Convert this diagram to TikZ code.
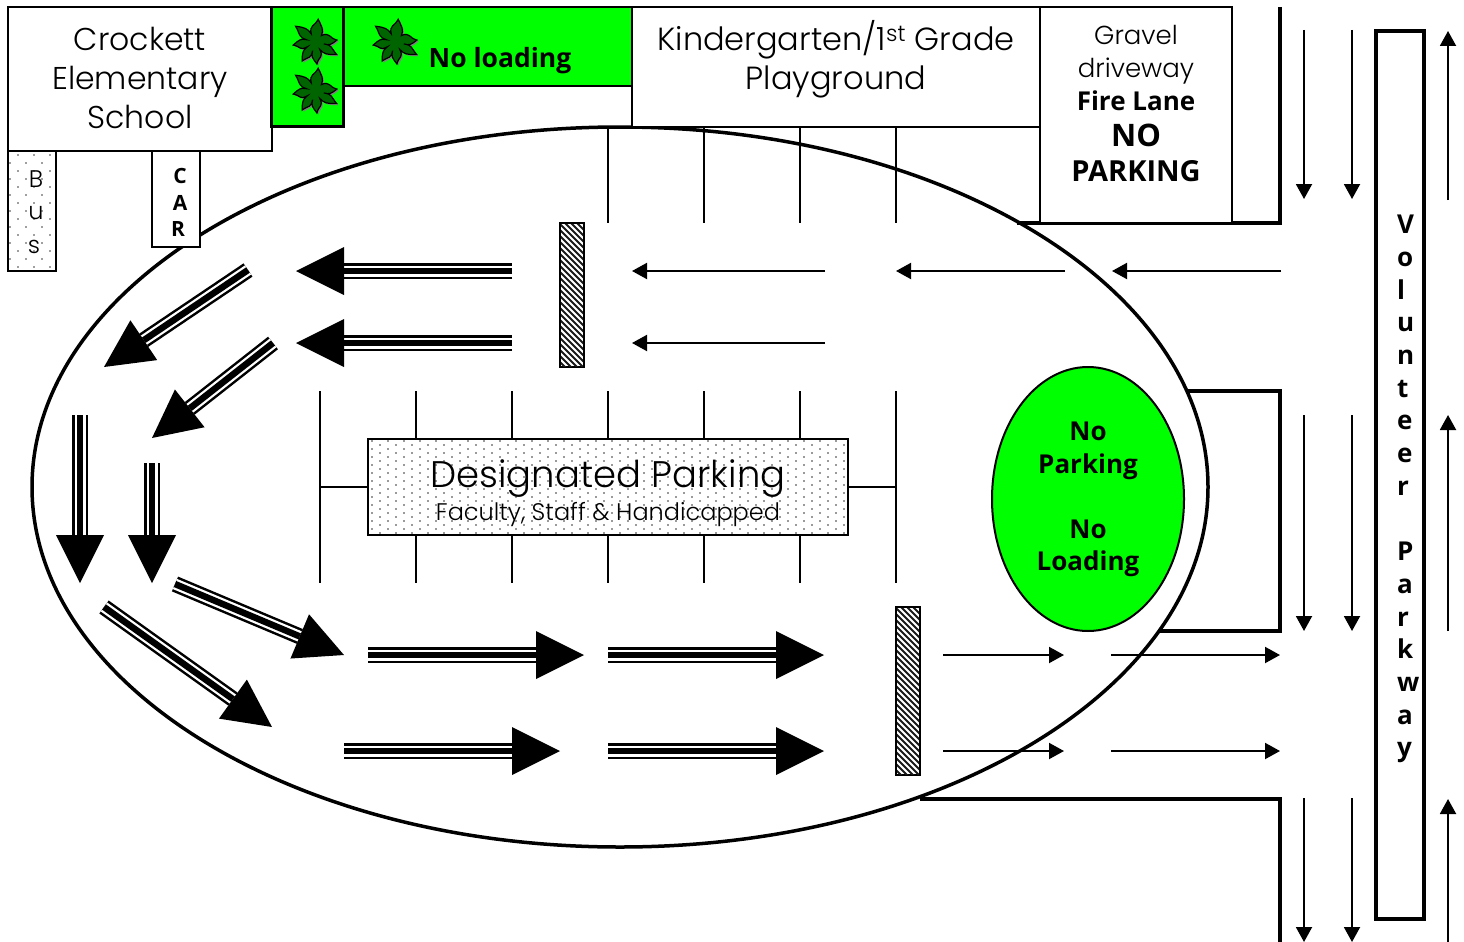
\documentclass[tikz,border=0pt]{standalone}
\usepackage{fontspec}
\setmainfont{Poppins Light}
\newfontfamily\boldf[BoldFont={* Bold}]{Open Sans}
\usetikzlibrary{shapes.geometric,arrows.meta,calc}
\definecolor{lawn}{RGB}{0,255,0}
\definecolor{leaf}{RGB}{0,100,0}
\tikzset{
 x=1pt,y=-1pt,
 box/.style={draw=black,line width=2.3pt,fill=white,anchor=north west,inner sep=0pt,outer sep=0pt,align=center},
 greenbox/.style={box,fill=lawn,line width=2.4pt},
 road/.style={draw=black,line width=3.6pt,line join=miter},
 stall/.style={draw=black,line width=2pt},
 thinarrow/.style={draw=black,line width=2pt,-{Triangle[length=15pt,width=16pt]}},
 lighttext/.style={inner sep=0pt,align=center,text=black},
 boldtext/.style={inner sep=0pt,align=center,font=\boldf\bfseries},
 pics/leafy/.style={code={
  \foreach \dx/\col/\edge/\w in {1.5/gray/gray/0.1,0/leaf/black/1.2}{
  \filldraw[shift={(\dx,\dx)},fill=\col,draw=\edge,line width=\w pt]
   (245:9)
   \foreach \p/\t/\n/\r in {245/278/315/23,315/355/372/22,372/390/417/25,417/445/465/22,465/484/508/23,508/532/555/22,555/579/605/25}{
    .. controls ({(\p+\t)/2-10}:18) and ({\t-11}:{\r*0.66}) .. (\t:\r)
    .. controls ({\t+16}:{\r*0.72}) and ({(\t+\n)/2+10}:15) .. (\n:9)
   } -- cycle;
  }
 }},
}
\newcommand{\flowthin}[5]{\coordinate (#1-s) at (#2,#3); \coordinate (#1-e) at (#4,#5); \draw[thinarrow] (#1-s) -- (#1-e);}
\newcommand{\flowbig}[5]{\coordinate (#1-s) at (#2,#3); \coordinate (#1-e) at (#4,#5);
 \coordinate (#1-b) at ($(#1-e)!48pt!(#1-s)$);
 \draw[line width=16pt] (#1-s) -- (#1-b);
 \draw[line width=11pt,white] (#1-s) -- (#1-b);
 \draw[line width=6.5pt] (#1-s) -- (#1-b);
 \fill (#1-e) -- ($(#1-b)!24pt!90:(#1-e)$) -- ($(#1-b)!24pt!-90:(#1-e)$) -- cycle;}
\newcommand{\stallline}[4]{\draw[stall] (#1,#2) -- (#3,#4);}
\begin{document}
\begin{tikzpicture}
\useasboundingbox (0,0) rectangle (1464,942);
\fill[white] (0,0) rectangle (1464,942);
% oval drive
\node[ellipse,draw=black,line width=3.5pt,minimum width=1176pt,minimum height=720pt,inner sep=0pt,outer sep=0pt] (oval) at (620,487) {};
% road edges
\draw[road] (1280,7) -- (1280,223) -- (1017,223);
\draw[road] (1187,391) -- (1280,391) -- (1280,631) -- (1160,631);
\draw[road] (920,799) -- (1280,799) -- (1280,942);
% buildings
\node[box,minimum width=264pt,minimum height=144pt] (school) at (8,7) {};
\node[lighttext,font=\fontsize{31.5}{39}\selectfont] (st) at (140,78) {Crockett\\Elementary\\School};
\node[greenbox,minimum width=72pt,minimum height=119.5pt] (trees) at (271.5,7) {};
\node[greenbox,minimum width=288.5pt,minimum height=79pt] (noload) at (343.5,7) {};
\node[box,minimum width=408pt,minimum height=120pt] (kinder) at (632,7) {};
\node[lighttext,font=\fontsize{32}{39}\selectfont] (kt) at (836,59.5) {Kindergarten/1\textsuperscript{st} Grade\\Playground};
\node[box,minimum width=192pt,minimum height=216pt] (gravel) at (1040,7) {};
\node[lighttext,font=\fontsize{26}{26}\selectfont] (gr1) at (1136,35) {Gravel};
\node[lighttext,font=\fontsize{26}{26}\selectfont] (gr2) at (1136,71) {driveway};
\node[boldtext,font=\boldf\bfseries\fontsize{26}{26}\selectfont] (gr3) at (1136,101) {Fire Lane};
\node[boldtext,font=\boldf\bfseries\fontsize{31}{31}\selectfont] (gr4) at (1136,135) {NO};
\node[boldtext,font=\boldf\bfseries\fontsize{29}{29}\selectfont] (gr5) at (1136,171) {PARKING};
\node[boldtext,font=\boldf\bfseries\fontsize{26.5}{27}\selectfont] (nl) at (500,61) {No loading};
\pic (t1) at (315,42) {leafy};
\pic (t2) at (315,91) {leafy};
\pic (t3) at (395,42) {leafy};
% bus and car
\node[box,minimum width=48pt,minimum height=120pt] (bus) at (8,151) {};
\begin{scope}
\clip (9,152) rectangle (55,270);
\foreach \r in {0,...,14}{\foreach \c in {-1,...,3}{
 \fill[black!75] ({18+\c*16-mod(\r,2)*8},{155+\r*8}) circle (0.9pt);}}
\end{scope}
\node[lighttext,font=\fontsize{24}{24}\selectfont] (b1) at (36,179) {B};
\node[lighttext,font=\fontsize{24}{24}\selectfont] (b2) at (36,213) {u};
\node[lighttext,font=\fontsize{24}{24}\selectfont] (b3) at (34,247) {s};
\node[box,minimum width=48pt,minimum height=96pt] (car) at (152,151) {};
\node[boldtext,font=\boldf\bfseries\fontsize{21}{21}\selectfont] (c1) at (180,176) {C};
\node[boldtext,font=\boldf\bfseries\fontsize{21}{21}\selectfont] (c2) at (180,203) {A};
\node[boldtext,font=\boldf\bfseries\fontsize{21}{21}\selectfont] (c3) at (178,229) {R};
% stall lines
\foreach \x in {608,704,800,896}{\stallline{\x}{127}{\x}{223}}
\stallline{320}{391}{320}{583}
\stallline{896}{391}{896}{583}
\foreach \x in {416,512,608,704,800}{\stallline{\x}{391}{\x}{439}\stallline{\x}{535}{\x}{583}}
\stallline{320}{487}{368}{487}
\stallline{848}{487}{896}{487}
% designated parking
\node[box,minimum width=480pt,minimum height=96pt] (desig) at (368,439) {};
\begin{scope}
\clip (369.2,440.2) rectangle (846.8,533.8);
\foreach \r in {0,...,23}{\foreach \c in {0,...,30}{
 \fill[black!80] ({372+\c*16+mod(\r,2)*8},{441+\r*4}) circle (0.9pt);}}
\end{scope}
\node[lighttext,font=\fontsize{37}{37}\selectfont] (d1) at (608,479) {Designated Parking};
\node[lighttext,font=\fontsize{24}{24}\selectfont] (d2) at (608,515) {Faculty, Staff \& Handicapped};
% hatched bars
\node[box,minimum width=24pt,minimum height=144pt] (bar1) at (560,223) {};
\begin{scope}
\clip (561,224) rectangle (583,366);
\foreach \k in {0,...,30}{\draw[line width=2.1pt,black!90] (558,{192+\k*6}) -- (586,{220+\k*6});}
\end{scope}
\node[box,minimum width=24pt,minimum height=168pt] (bar2) at (896,607) {};
\begin{scope}
\clip (897,608) rectangle (919,774);
\foreach \k in {0,...,34}{\draw[line width=2.1pt,black!90] (894,{576+\k*6}) -- (922,{604+\k*6});}
\end{scope}
% no parking circle
\node[ellipse,draw=black,line width=2pt,fill=lawn,minimum width=192pt,minimum height=264pt,inner sep=0pt,outer sep=0pt] (circle1) at (1088,499) {};
\node[boldtext,font=\boldf\bfseries\fontsize{26}{32.6}\selectfont] (cl) at (1088,499.5) {No\\Parking\\[32.6pt]No\\Loading};
% volunteer parkway
\node[draw=black,line width=4pt,anchor=north west,minimum width=48pt,minimum height=888pt,inner sep=0pt,outer sep=0pt] (vol) at (1376,31) {};
\node[boldtext,align=left,anchor=north west,font=\boldf\bfseries\fontsize{26}{32.7}\selectfont] (volt) at (1397,215) {V\\o\\l\\u\\n\\t\\e\\e\\r\\[32.7pt]P\\a\\r\\k\\w\\a\\y};
% large arrows
\flowbig{a1}{512}{271}{296}{271}
\flowbig{a2}{512}{343}{296}{343}
\flowbig{a3}{248}{270}{104}{367}
\flowbig{a4}{273}{343}{152}{438}
\flowbig{a5}{80}{415}{80}{583}
\flowbig{a6}{152}{463}{152}{583}
\flowbig{a7}{175}{584}{344}{655}
\flowbig{a8}{104}{607}{272}{727}
\flowbig{a9}{368}{655}{584}{655}
\flowbig{a10}{608}{655}{824}{655}
\flowbig{a11}{344}{751}{560}{751}
\flowbig{a12}{608}{751}{824}{751}
% thin arrows
\flowthin{f1}{825}{271}{632}{271}
\flowthin{f2}{1065}{271}{896}{271}
\flowthin{f3}{1281}{271}{1112}{271}
\flowthin{f4}{825}{343}{632}{343}
\flowthin{f5}{943}{655}{1064}{655}
\flowthin{f6}{1111}{655}{1280}{655}
\flowthin{f7}{943}{751}{1064}{751}
\flowthin{f8}{1111}{751}{1280}{751}
\flowthin{g1}{1304}{30}{1304}{199}
\flowthin{g2}{1352}{30}{1352}{199}
\flowthin{g3}{1304}{415}{1304}{631}
\flowthin{g4}{1352}{415}{1352}{631}
\flowthin{g5}{1304}{798}{1304}{942}
\flowthin{g6}{1352}{798}{1352}{942}
\flowthin{h1}{1448}{200}{1448}{31}
\flowthin{h2}{1448}{631}{1448}{415}
\flowthin{h3}{1448}{942}{1448}{799}
\end{tikzpicture}
\end{document}
